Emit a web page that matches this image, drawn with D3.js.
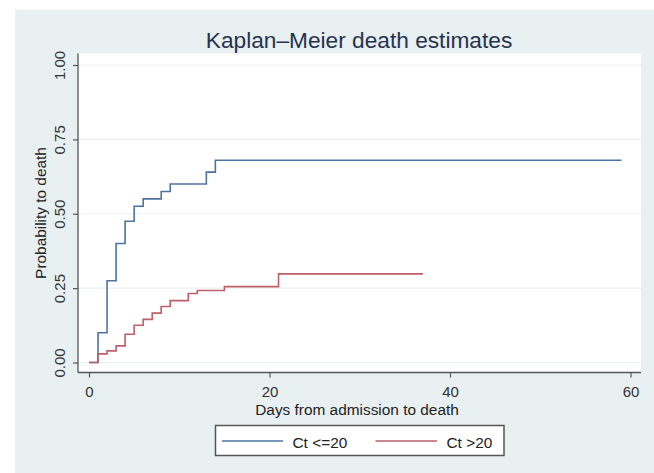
<!DOCTYPE html>
<html>
<head>
<meta charset="utf-8">
<script src="https://cdn.jsdelivr.net/npm/d3@7"></script>
<style>
  body { margin: 0; background: #fff; }
  svg { display: block; font-family: "Liberation Sans", Arial, sans-serif; }
</style>
</head>
<body>
<div id="chart"></div>
<script>
// step points [day, probability]
const lowCt = [[0, 0], [1, 0.10], [2, 0.275], [3, 0.40], [4, 0.475], [5, 0.525], [6, 0.55],
  [8, 0.575], [9, 0.60], [13, 0.64], [14, 0.68], [59, 0.68]];
const highCt = [[0, 0], [1, 0.029], [2, 0.039], [3, 0.056], [4, 0.095], [5, 0.125], [6, 0.145],
  [7, 0.166], [8, 0.188], [9, 0.208], [11, 0.232], [12, 0.242], [15, 0.255], [21, 0.298], [37, 0.298]];
const seriesNames = ["Ct <=20", "Ct >20"];
const xTicks = [0, 20, 40, 60];
const yTicks = [0, 0.25, 0.5, 0.75, 1];

const width = 654, height = 473;
const colors = ["#4d74a0", "#bd6067"];

const svg = d3.select("#chart").append("svg")
  .attr("width", width).attr("height", height);

// outer panel
svg.append("rect").attr("x", 15).attr("y", 9.5)
  .attr("width", width - 15).attr("height", height - 9.5)
  .attr("fill", "#e8f0f2");

// plot region
const plot = { left: 78, top: 53.5, right: 641, bottom: 372.5 };
svg.append("rect").attr("x", plot.left).attr("y", plot.top)
  .attr("width", plot.right - plot.left).attr("height", plot.bottom - plot.top)
  .attr("fill", "#fff");

const x = d3.scaleLinear().domain([0, 60]).range([89, 630.5]);
const y = d3.scaleLinear().domain([0, 1]).range([362.5, 65]);

// gridlines
svg.append("g")
  .selectAll("line").data(yTicks).join("line")
  .attr("x1", plot.left).attr("x2", plot.right)
  .attr("y1", d => y(d)).attr("y2", d => y(d))
  .attr("stroke", "#eaf1f3").attr("stroke-width", 1.2);

// axes
const yAxis = svg.append("g")
  .attr("transform", `translate(${plot.left},0)`)
  .call(d3.axisLeft(y).tickValues(yTicks).tickFormat(d3.format(".2f")).tickSize(5));
yAxis.select(".domain").attr("d", `M0,${plot.top}V${plot.bottom}`);
// vertical tick labels, like Stata
yAxis.selectAll(".tick text")
  .attr("transform", "rotate(-90)")
  .attr("x", 0).attr("y", -13).attr("dy", "0")
  .attr("text-anchor", "middle");

const xAxis = svg.append("g")
  .attr("transform", `translate(0,${plot.bottom})`)
  .call(d3.axisBottom(x).tickValues(xTicks).tickSize(5).tickPadding(8.5));
xAxis.select(".domain").attr("d", `M${plot.left},0H${plot.right}`);

[yAxis, xAxis].forEach(g => {
  g.select(".domain").attr("stroke", "#555").attr("stroke-width", 1.3);
  g.selectAll(".tick line").attr("stroke", "#555").attr("stroke-width", 1.2);
  g.selectAll("text").attr("font-size", 15).attr("fill", "#333")
    .attr("font-family", "Liberation Sans, Arial, sans-serif");
});

// step curves
const line = d3.line().x(d => x(d[0])).y(d => y(d[1])).curve(d3.curveStepAfter);
[lowCt, highCt].forEach((s, i) => {
  svg.append("path").attr("d", line(s))
    .attr("fill", "none").attr("stroke", colors[i]).attr("stroke-width", 1.6);
});

// titles
svg.append("text").attr("x", 359).attr("y", 48)
  .attr("text-anchor", "middle").attr("font-size", 22.7).attr("fill", "#26324f")
  .text("Kaplan–Meier death estimates");
svg.append("text").attr("x", 357).attr("y", 414.5)
  .attr("text-anchor", "middle").attr("font-size", 15.4).attr("fill", "#222")
  .text("Days from admission to death");
svg.append("text").attr("transform", "translate(46,213) rotate(-90)")
  .attr("text-anchor", "middle").attr("font-size", 15.4).attr("fill", "#222")
  .text("Probability to death");

// legend
const legend = svg.append("g");
legend.append("rect").attr("x", 215.5).attr("y", 425.5).attr("width", 288.5).attr("height", 30)
  .attr("fill", "#fff").attr("stroke", "#555").attr("stroke-width", 1.5);
const legendItems = [{ x1: 222, x2: 283, tx: 292.5 }, { x1: 375.5, x2: 437, tx: 446.5 }];
legendItems.forEach((it, i) => {
  legend.append("line").attr("x1", it.x1).attr("x2", it.x2).attr("y1", 441).attr("y2", 441)
    .attr("stroke", colors[i]).attr("stroke-width", 1.6);
  legend.append("text").attr("x", it.tx).attr("y", 447.5).attr("font-size", 15.4).attr("fill", "#222")
    .text(seriesNames[i]);
});
</script>
</body>
</html>
